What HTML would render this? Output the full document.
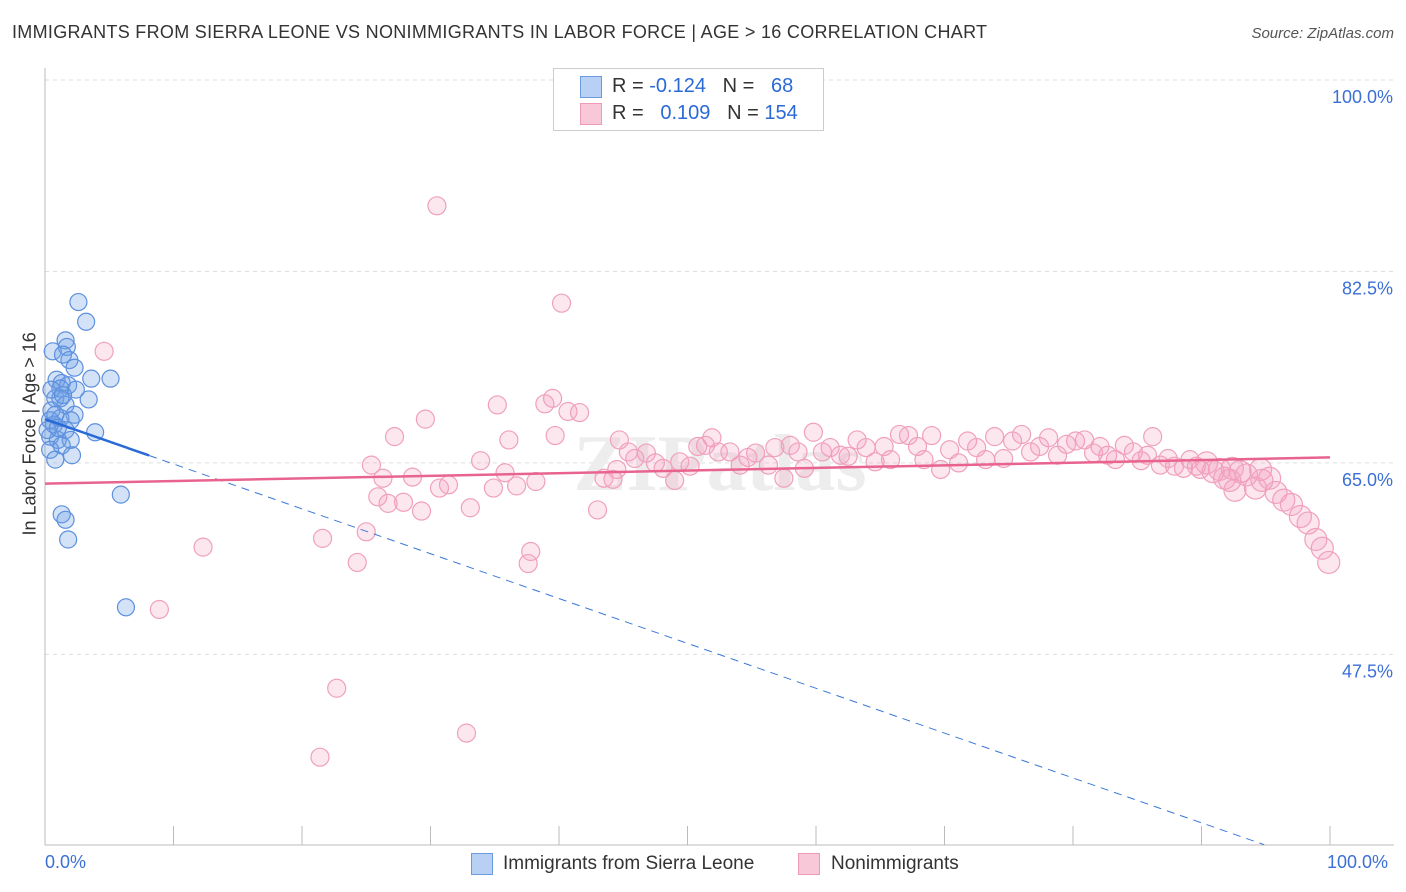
<!DOCTYPE html>
<html><head><meta charset="utf-8">
<style>
body{margin:0;background:#fff;font-family:"Liberation Sans",sans-serif;}
#wrap{position:relative;width:1406px;height:892px;overflow:hidden;}
.t{position:absolute;white-space:nowrap;}
</style></head>
<body>
<div id="wrap">
<div class="t" style="left:12px;top:22px;font-size:18px;letter-spacing:0.3px;color:#333;">IMMIGRANTS FROM SIERRA LEONE VS NONIMMIGRANTS IN LABOR FORCE | AGE &gt; 16 CORRELATION CHART</div>
<div class="t" style="right:12px;top:25px;font-size:15px;color:#555;font-style:italic;">Source: ZipAtlas.com</div>
<svg id="svg" width="1406" height="892" style="position:absolute;left:0;top:0"></svg>
</div>
<script>
const xTicks=[0,10,20,30,40,50,60,70,80,90,100];
const yGrid=[100,82.5,65,47.5];
const yTickLabels=["100.0%","82.5%","65.0%","47.5%"];
const blueX=[2.6,3.2,1.6,1.7,0.6,1.4,1.9,2.3,3.6,5.1,0.9,1.3,1.8,1.2,2.4,3.4,0.8,1.6,0.5,2.3,1.2,0.7,1.6,3.9,0.4,1.0,2.0,1.3,0.4,2.1,0.8,5.9,1.3,1.6,1.8,6.3,0.4,0.8,0.2,1.2,0.5,2.0,1.0,1.4];
const blueY=[79.7,77.9,76.2,75.6,75.2,74.9,74.4,73.7,72.7,72.7,72.6,72.3,72.1,71.8,71.7,70.8,70.9,70.3,69.8,69.4,69.1,68.5,68.0,67.8,67.4,67.1,67.1,66.6,66.2,65.7,65.3,62.1,60.3,59.8,58.0,51.8,68.9,69.4,68.0,70.9,71.7,68.9,68.2,71.2];
const pinkX=[4.6,30.5,40.2,12.3,8.9,22.7,21.4,32.8,21.6,24.3,25.0,25.4,26.3,25.9,26.7,27.9,27.2,28.6,29.3,29.6,30.7,31.4,33.1,33.9,34.9,35.2,35.8,36.1,36.7,37.6,37.8,38.2,38.9,39.5,39.7,40.7,41.6,43.0,43.5,44.2,44.5,44.7,45.4,45.9,46.8,47.5,48.1,49.0,49.4,50.2,50.8,51.4,51.9,52.4,53.3,54.1,54.7,55.3,56.3,56.8,57.5,58.0,58.6,59.1,59.8,60.5,61.1,61.9,62.5,63.2,63.9,64.6,65.3,65.8,66.5,67.2,67.9,68.4,69.0,69.7,70.4,71.1,71.8,72.5,73.2,73.9,74.6,75.3,76.0,76.7,77.4,78.1,78.8,79.5,80.2,80.9,81.6,82.1,82.7,83.3,84.0,84.7,85.3,85.8,86.2,86.8,87.4,87.9,88.6,89.1,89.6,90.4,90.9,91.4,91.8,92.4,93.0,93.5,94.2,94.7,95.3,95.8,96.4,97.0,97.7,98.3,98.9,99.4,99.9,92.2,94.6,89.9,92.6];
const pinkY=[75.2,88.5,79.6,57.3,51.6,44.4,38.1,40.3,58.1,55.9,58.7,64.8,63.6,61.9,61.3,61.4,67.4,63.7,60.6,69.0,62.7,63.0,60.9,65.2,62.7,70.3,64.1,67.1,62.9,55.8,56.9,63.3,70.4,70.9,67.5,69.7,69.6,60.7,63.6,63.5,64.4,67.1,66.0,65.4,65.9,65.0,64.5,63.4,65.1,64.7,66.5,66.6,67.3,66.0,66.0,64.8,65.5,65.9,64.8,66.4,63.6,66.6,66.0,64.5,67.8,66.0,66.4,65.7,65.6,67.1,66.4,65.1,66.5,65.3,67.6,67.5,66.5,65.3,67.5,64.4,66.2,65.0,67.0,66.4,65.3,67.4,65.4,67.0,67.6,66.0,66.5,67.3,65.7,66.7,67.0,67.1,65.9,66.5,65.7,65.3,66.6,66.0,65.2,65.7,67.4,64.8,65.4,64.7,64.5,65.3,64.7,65.0,64.2,64.4,63.6,64.5,64.2,63.9,62.7,63.4,63.6,62.3,61.6,61.2,60.1,59.5,58.0,57.2,55.9,63.4,64.4,64.4,62.5];
const blueTrend=[69.0,-0.41];
const pinkTrend=[63.1,0.024];

const X=v=>45+v*12.85;
const Y=v=>80+(100-v)*10.94;
const svg=document.getElementById('svg');
const NS='http://www.w3.org/2000/svg';
function mk(tag,a){const e=document.createElementNS(NS,tag);for(const k in a)e.setAttribute(k,a[k]);svg.appendChild(e);return e;}
yGrid.forEach((g,i)=>{
  const l=mk('line',{x1:45,x2:1394,y1:Y(g),y2:Y(g),stroke:'#ddd','stroke-dasharray':'4,4'});
  
  
  const t=mk('text',{x:1393,y:Y(g)+23,'text-anchor':'end','font-size':18,fill:'#3b6fd6','font-family':'Liberation Sans'});
  t.textContent=yTickLabels[i];
  
  
});
const ax=mk('line',{x1:45,x2:45,y1:68,y2:845,stroke:'#bbb'});


const bx=mk('line',{x1:45,x2:1394,y1:845,y2:845,stroke:'#bbb'});


xTicks.forEach(v=>{
  const l=mk('line',{x1:X(v),x2:X(v),y1:826,y2:845,stroke:'#bbb'});
  
  
});
const wm=mk('text',{x:720,y:490,'text-anchor':'middle','font-size':80,fill:'#ededed','font-family':'Liberation Serif','font-weight':'bold'});
wm.textContent='ZIPatlas';


pinkX.forEach((x,i)=>{
  const c=mk('circle',{cx:X(x),cy:Y(pinkY[i]),r:x>90?11:9,fill:'rgba(244,160,190,0.25)',stroke:'#f0a0bc','stroke-width':1.2});
  
  
});
blueX.forEach((x,i)=>{
  const c=mk('circle',{cx:X(x),cy:Y(blueY[i]),r:8.5,fill:'rgba(110,160,230,0.3)',stroke:'#5d90de','stroke-width':1.2});
  
  
});
const bEnd=(blueTrend[0]-30.1)/(-blueTrend[1]);
const bd=mk('line',{x1:X(8.1),y1:Y(blueTrend[0]+blueTrend[1]*8.1),x2:X(bEnd),y2:Y(30.1),stroke:'#3b78d8','stroke-width':1,'stroke-dasharray':'8,6'});


const bs=mk('line',{x1:X(0),y1:Y(blueTrend[0]),x2:X(8.1),y2:Y(blueTrend[0]+blueTrend[1]*8.1),stroke:'#2a6ad6','stroke-width':2.5});


const pt=mk('line',{x1:X(0),y1:Y(pinkTrend[0]),x2:X(100),y2:Y(pinkTrend[0]+pinkTrend[1]*100),stroke:'#e8648e','stroke-width':2.5});


</script>
<div class="t" style="left:-50px;top:445px;font-size:18px;color:#333;transform:rotate(-90deg);width:160px;text-align:center;">In Labor Force | Age &gt; 16</div>
<div class="t" style="left:45px;top:852px;font-size:18px;color:#3b6fd6;">0.0%</div>
<div class="t" style="left:1327px;top:852px;font-size:18px;color:#3b6fd6;">100.0%</div>
<div style="position:absolute;left:553px;top:68px;width:269px;height:61px;border:1px solid #ccc;background:#fff;font-size:20px;color:#333;">
  <div style="position:absolute;left:26px;top:7px;width:20px;height:20px;background:#b8d0f4;border:1px solid #6a9ae0;"></div>
  <div class="t" style="left:58px;top:6px;">R = <span style="color:#2a6ad6">-0.124</span>&nbsp;&nbsp;&nbsp;N = &nbsp;&nbsp;<span style="color:#2a6ad6">68</span></div>
  <div style="position:absolute;left:26px;top:34px;width:20px;height:20px;background:#f8c8d8;border:1px solid #ee9ab6;"></div>
  <div class="t" style="left:58px;top:33px;">R = &nbsp;&nbsp;<span style="color:#2a6ad6">0.109</span>&nbsp;&nbsp;&nbsp;N = <span style="color:#2a6ad6">154</span></div>
</div>
<div style="position:absolute;left:471px;top:853px;font-size:19px;color:#333;">
  <div style="position:absolute;left:0;top:0;width:20px;height:20px;background:#b8d0f4;border:1px solid #6a9ae0;"></div>
  <div class="t" style="left:32px;top:0;">Immigrants from Sierra Leone</div>
</div>
<div style="position:absolute;left:798px;top:853px;font-size:19px;color:#333;">
  <div style="position:absolute;left:0;top:0;width:20px;height:20px;background:#f8c8d8;border:1px solid #ee9ab6;"></div>
  <div class="t" style="left:33px;top:0;">Nonimmigrants</div>
</div>
</body></html>
